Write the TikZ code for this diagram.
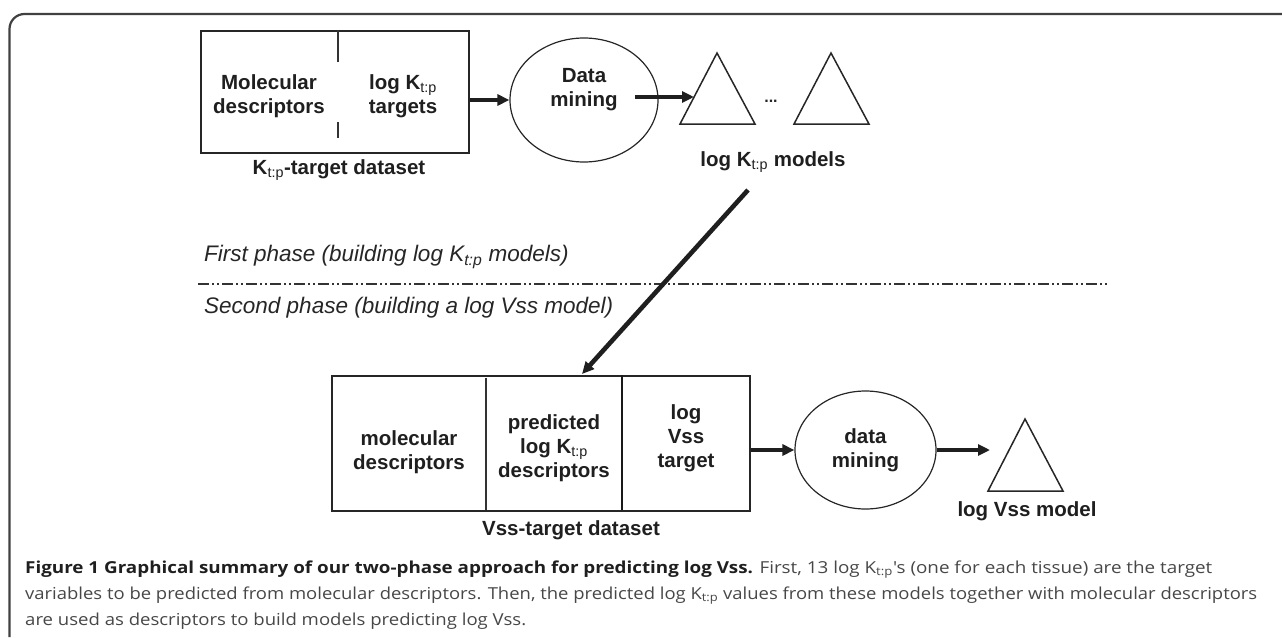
\documentclass[tikz,border=0pt]{standalone}
\usepackage{graphicx}
\usepackage{fontspec}
\setmainfont{Liberation Sans}
\newfontfamily\capfont{Open Sans}
\usetikzlibrary{shapes.geometric,arrows.meta}
\newcommand\ktp{\textsubscript{\mdseries t:p}}
\begin{document}
\begin{tikzpicture}[x=1pt,y=-1pt,
  lbl/.style={font=\fontsize{20.5}{24}\selectfont\bfseries, text=black!88, inner sep=0, align=center},
  phase/.style={font=\fontsize{22.5}{26}\selectfont\itshape, text=black!85, inner sep=0, anchor=west},
  boxst/.style={draw=black!85, line width=1.5pt, inner sep=0},
  ell/.style={draw=black!85, ellipse, line width=1.2pt, inner sep=0},
  tri/.style={draw=black!85, line width=1.5pt, line join=miter},
  arr/.style={-{Triangle[length=12pt,width=11pt]}, line width=3.6pt, draw=black!88},
  divthin/.style={draw=black!80, line width=1.2pt},
  dashdot/.style={draw=black!80, line width=1.5pt, dash pattern=on 11pt off 3pt on 2pt off 3pt on 2pt off 3pt},
  framest/.style={draw=black!75, line width=2.2pt},
  captext/.style={inner sep=0, anchor=base west, text=black!72, font=\capfont\fontsize{16.5}{20}\selectfont}
]
\useasboundingbox (0,0) rectangle (1282,637);
% frame
\draw[framest] (9.5,637) -- (9.5,29) arc[start angle=180,end angle=270,radius=15] -- (1282,14);

% ---------- first phase ----------
\node[boxst, minimum width=268, minimum height=122, anchor=north west] (kbox) at (200,30) {};
\coordinate (kd1) at (338,30);
\coordinate (kd2) at (338,62);
\coordinate (kd3) at (338,122);
\coordinate (kd4) at (338,138);
\draw[divthin] (kd1) -- (kd2);
\draw[divthin] (kd3) -- (kd4);
\node[lbl] (kmol) at (269,96.5) {Molecular\\descriptors};
\node[lbl] (ktgt) at (403,96.5) {log K\ktp\\targets};
\node[lbl] (kdata) at (339,170) {K\ktp-target dataset};

\node[ell, minimum width=148, minimum height=124] (dm1) at (584,100) {};
\node[lbl] (dm1t) at (584,90) {Data\\mining};
\draw[arr] (kbox.east |- dm1.west) -- (dm1.west);

\draw[tri] (717,53) -- (755,124) -- (680,124) -- cycle;
\draw[tri] (831,53) -- (869,124) -- (794,124) -- cycle;
\coordinate (dm1o) at (635,97);
\coordinate (t1w) at (694,97);
\draw[arr] (dm1o) -- (t1w);
\node[font=\fontsize{16}{16}\selectfont\bfseries, text=black!85, inner sep=0] (dots) at (771,101) {...};
\node[lbl] (kmodels) at (773,162) {log K\ktp{} models};

% ---------- phase separation ----------
\node[phase] (ph1) at (204,257) {First phase (building log K\textsubscript{t:p} models)};
\coordinate (dl) at (198,284);
\coordinate (dr) at (1107,284);
\draw[dashdot] (dl) -- (dr);
\node[phase] (ph2) at (204,308) {Second phase (building a log Vss model)};

% ---------- second phase ----------
\node[boxst, minimum width=418, minimum height=135, anchor=north west] (vbox) at (331,375) {};
\coordinate (vd1) at (486,378);
\coordinate (vd2) at (486,510);
\coordinate (vd3) at (622,375);
\coordinate (vd4) at (622,510);
\draw[divthin] (vd1) -- (vd2);
\draw[draw=black!90, line width=1.7pt] (vd3) -- (vd4);
\node[lbl] (vmol) at (409,452) {molecular\\descriptors};
\node[lbl] (vpred) at (554,448) {predicted\\log K\ktp\\descriptors};
\node[lbl] (vtgt) at (686,438) {log\\Vss\\target};
\node[lbl] (vdata) at (571,530) {Vss-target dataset};

\coordinate (dstart) at (748,190);
\coordinate (vin) at (582,374);
\draw[arr, line width=4.6pt] (dstart) -- (vin);

\node[ell, minimum width=141, minimum height=118, font=\fontsize{20.5}{24}\selectfont\bfseries, text=black!88, align=center] (dm2) at (865.5,450) {data\\mining};
\draw[arr] (vbox.east |- dm2.west) -- (dm2.west);
\draw[tri] (1025,419) -- (1063,491) -- (988,491) -- cycle;
\coordinate (t3w) at (990,450);
\draw[arr] (dm2.east) -- (t3w);
\node[lbl] (vmodel) at (1027,511) {log Vss model};

% ---------- caption ----------
\node[captext] (c1) at (25,573) {\resizebox{1187pt}{\height}{\textbf{\color{black!88}Figure 1 Graphical summary of our two-phase approach for predicting log Vss.} First, 13 log K\textsubscript{t:p}'s (one for each tissue) are the target}};
\node[captext] (c2) at (25,599) {\resizebox{1232pt}{\height}{variables to be predicted from molecular descriptors. Then, the predicted log K\textsubscript{t:p} values from these models together with molecular descriptors}};
\node[captext] (c3) at (25,625) {\resizebox{501pt}{\height}{are used as descriptors to build models predicting log Vss.}};
\end{tikzpicture}
\end{document}
